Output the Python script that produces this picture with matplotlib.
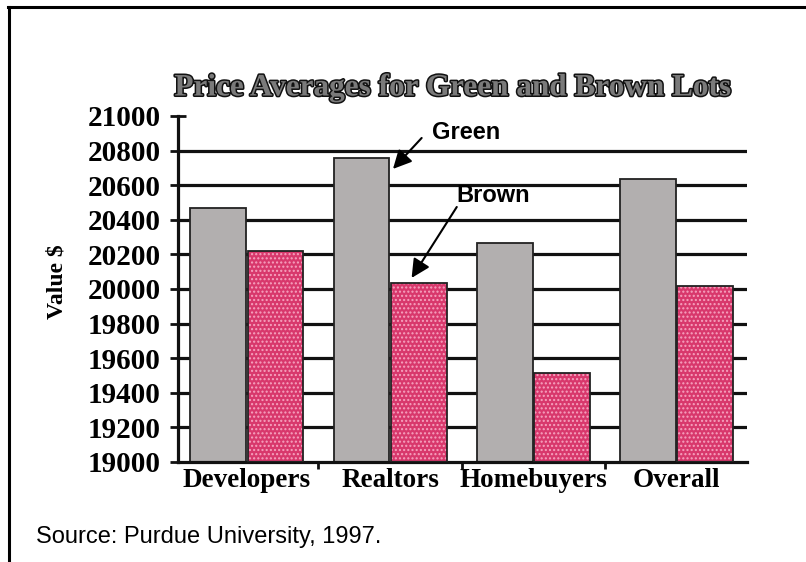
import matplotlib
matplotlib.use("Agg")
import matplotlib.pyplot as plt
import matplotlib.patheffects as pe
from matplotlib.lines import Line2D
import numpy as np

categories = ["Developers", "Realtors", "Homebuyers", "Overall"]
green_values = [20470, 20760, 20265, 20635]
brown_values = [20220, 20035, 19515, 20015]
yticks = [19000, 19200, 19400, 19600, 19800, 20000, 20200, 20400, 20600, 20800, 21000]

fig = plt.figure(figsize=(8.06, 5.62), dpi=100)
ax = fig.add_axes([178/806, 1-462/562, (747-178)/806, (462-116)/562])

x = np.arange(len(categories))
w = 0.39
off = 0.2

# gridlines (behind bars)
for yv in yticks[1:-1]:
    ax.axhline(yv, color="#111111", lw=2.3, zorder=0.5)

ax.bar(x - off, [v - 19000 for v in green_values], bottom=19000, width=w,
       color="#b2afaf", edgecolor="#222222", linewidth=1.3, zorder=2)
ax.bar(x + off, [v - 19000 for v in brown_values], bottom=19000, width=w,
       color="#d8386c", edgecolor="#f6a3bf", hatch="....", linewidth=0, zorder=2)
ax.bar(x + off, [v - 19000 for v in brown_values], bottom=19000, width=w,
       fill=False, edgecolor="#222222", linewidth=1.3, zorder=3)

ax.set_xlim(-0.48, 3.49)
ax.set_ylim(19000, 21000)
ax.set_yticks(yticks)
ax.set_yticklabels([str(t) for t in yticks], fontfamily="Liberation Serif",
                   fontweight="bold", fontsize=21)
ax.set_xticks(x)
ax.set_xticklabels(categories, fontfamily="Liberation Serif", fontweight="bold", fontsize=19.5)
ax.set_xticks([0.5, 1.5, 2.5], minor=True)
ax.tick_params(axis="x", which="major", length=0, pad=4)
ax.tick_params(axis="x", which="minor", length=5, width=2, direction="out", color="#111111")
ax.tick_params(axis="y", direction="inout", length=11, width=2, color="#111111", pad=7)

for s in ["top", "right"]:
    ax.spines[s].set_visible(False)
ax.spines["left"].set_linewidth(2.3)
ax.spines["bottom"].set_linewidth(2.3)
ax.spines["left"].set_color("#111111")
ax.spines["bottom"].set_color("#111111")

fig.text(57/806, 1-282/562, "Value $", rotation=90, ha="center", va="center",
         fontfamily="Liberation Serif", fontweight="bold", fontsize=17)

fig.text(453/806, 1-88/562, "Price Averages for Green and Brown Lots", ha="center", va="center",
         fontfamily="Liberation Serif", fontweight="bold", fontsize=22.5, color="#7a7a7a",
         path_effects=[pe.withStroke(linewidth=2.2, foreground="#111111")])

# annotations
ax.text(1.53, 20902, "Green", ha="center", va="center", fontfamily="Liberation Sans",
        fontweight="bold", fontsize=17)
ax.annotate("", xy=(1.02, 20694), xytext=(1.22, 20873),
            arrowprops=dict(arrowstyle="-|>", mutation_scale=28, lw=1.5, color="black",
                            shrinkA=0, shrinkB=0))
ax.text(1.72, 20543, "Brown", ha="center", va="center", fontfamily="Liberation Sans",
        fontweight="bold", fontsize=17)
ax.annotate("", xy=(1.15, 20064), xytext=(1.465, 20474),
            arrowprops=dict(arrowstyle="-|>", mutation_scale=28, lw=1.5, color="black",
                            shrinkA=0, shrinkB=0))

fig.text(36/806, 1-537/562, "Source: Purdue University, 1997.", ha="left", va="center",
         fontfamily="Liberation Sans", fontsize=17)

# frame
fig.add_artist(Line2D([8/806, 1.0], [1-7/562, 1-7/562], transform=fig.transFigure,
                      color="black", lw=2.2))
fig.add_artist(Line2D([9/806, 9/806], [1-7/562, 0.0], transform=fig.transFigure,
                      color="black", lw=2.2))

fig.savefig("out.png", dpi=100)
